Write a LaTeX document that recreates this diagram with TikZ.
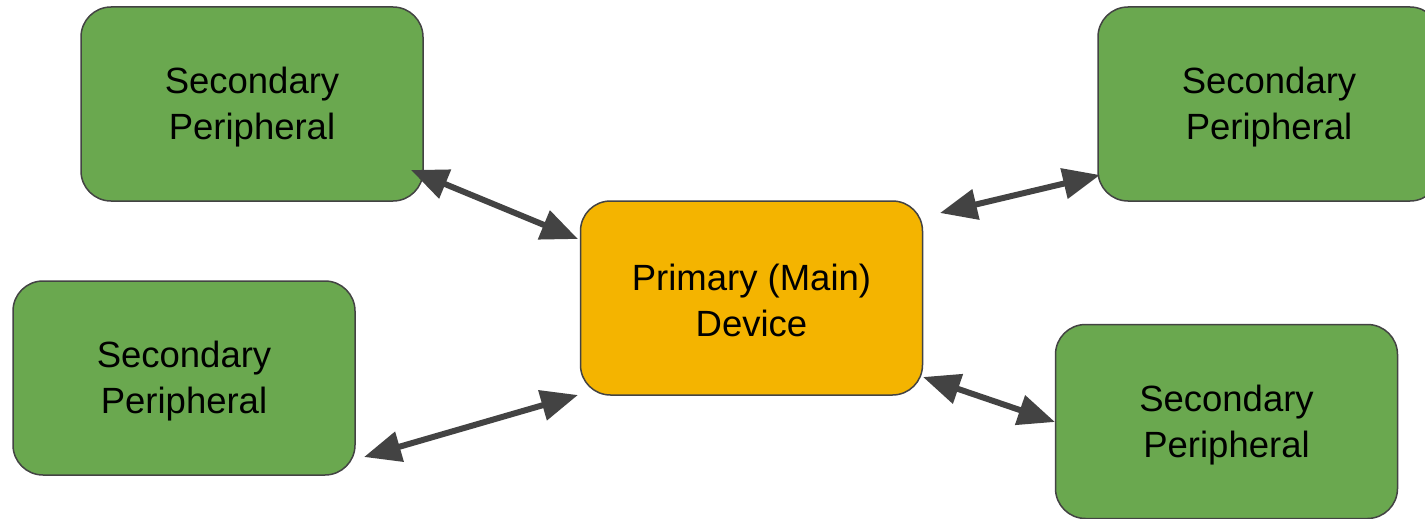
\documentclass[tikz,border=0pt]{standalone}
\usepackage{fontspec}
\setmainfont{Liberation Sans}
\usetikzlibrary{arrows.meta,calc}
\definecolor{leafgreen}{HTML}{6AA84F}
\definecolor{amber}{HTML}{F4B400}
\definecolor{edgegray}{HTML}{434343}
\tikzset{
  box/.style={draw=edgegray, line width=1.5pt, rounded corners=30pt,
    minimum width=342pt, minimum height=194pt},
  periph/.style={box, fill=leafgreen},
  mainbox/.style={box, fill=amber},
  boxtext/.style={align=center, inner sep=0pt, text=black,
    font=\fontsize{36.5}{46}\selectfont},
  biarrow/.style={draw=edgegray, line width=6pt,
    {Triangle[length=37pt,width=30pt]}-{Triangle[length=37pt,width=30pt]}}
}
\begin{document}
\begin{tikzpicture}[x=1pt,y=-1pt]
  \useasboundingbox (0,0) rectangle (1425,519);
  \fill[white] (0,0) rectangle (1425,519);

  \node[periph]  (tl)  at (252,104)      {};
  \node[periph]  (tr)  at (1269,104)     {};
  \node[periph]  (ml)  at (184,378)      {};
  \node[periph]  (br)  at (1226.5,421.5) {};
  \node[mainbox] (ctr) at (751.5,298)    {};

  \node[boxtext] (tlT)  at ($(tl.center)+(0,3.5)$)  {Secondary\\Peripheral};
  \node[boxtext] (trT)  at ($(tr.center)+(0,3.5)$)  {Secondary\\Peripheral};
  \node[boxtext] (mlT)  at ($(ml.center)+(0,3.5)$)  {Secondary\\Peripheral};
  \node[boxtext] (brT)  at ($(br.center)+(0,3.5)$)  {Secondary\\Peripheral};
  \node[boxtext] (ctrT) at ($(ctr.center)+(0,2)$)   {Primary (Main)\\Device};

  % arrow end points near the box edges
  \coordinate (tlA) at ($(tl.center)+(159,66)$);
  \coordinate (ctrA) at ($(ctr.center)+(-173.5,-59)$);
  \coordinate (ctrB) at ($(ctr.center)+(188.5,-85)$);
  \coordinate (trB) at ($(tr.center)+(-169,71)$);
  \coordinate (mlC) at ($(ml.center)+(180,79)$);
  \coordinate (ctrC) at ($(ctr.center)+(-173.5,97)$);
  \coordinate (ctrD) at ($(ctr.center)+(171.5,79)$);
  \coordinate (brD) at ($(br.center)+(-171.5,0.5)$);

  \draw[biarrow] (tlA) -- (ctrA);
  \draw[biarrow] (ctrB) -- (trB);
  \draw[biarrow] (mlC) -- (ctrC);
  \draw[biarrow] (ctrD) -- (brD);
\end{tikzpicture}
\end{document}
